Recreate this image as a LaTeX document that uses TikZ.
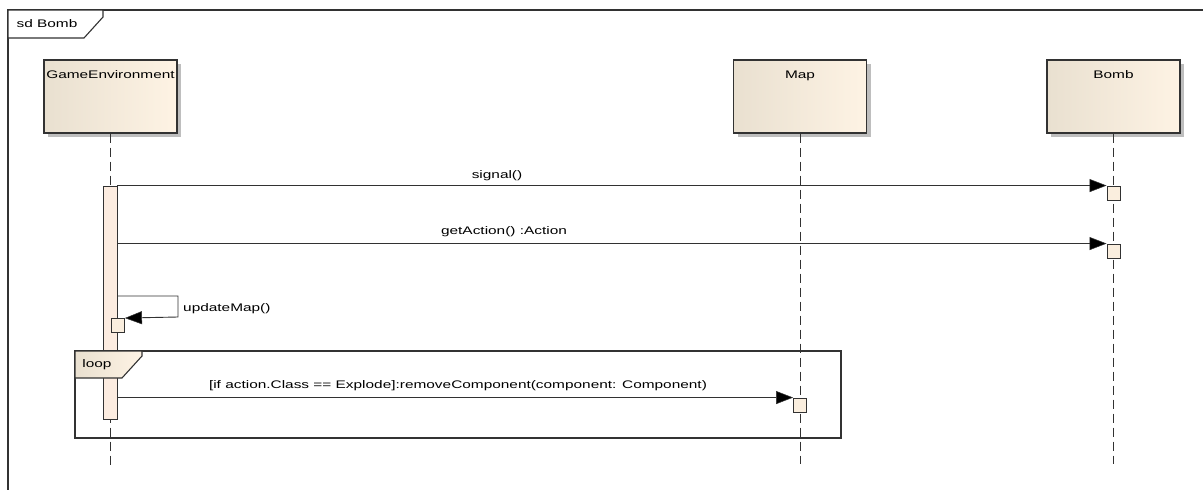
\documentclass[tikz,border=0pt]{standalone}
\usepackage{fontspec}
\setmainfont{Liberation Sans}[FakeStretch=1.4]
\usetikzlibrary{arrows.meta}
\definecolor{headL}{RGB}{233,224,208}
\definecolor{headR}{RGB}{254,243,228}
\definecolor{shadowgray}{RGB}{190,190,190}
\definecolor{linec}{RGB}{50,50,50}
\definecolor{actfill}{RGB}{252,236,224}
\definecolor{sqfill}{RGB}{250,238,222}
\tikzset{
  every node/.style={font=\fontsize{11}{13}\selectfont, text=black},
  head/.style={draw=linec, line width=1.1pt, left color=headL, right color=headR,
    minimum width=133pt, inner sep=0pt, text height=18pt, text depth=55pt,
    preaction={fill=shadowgray, transform canvas={shift={(4pt,-4pt)}}}},
  lifeline/.style={draw=linec, line width=0.9pt, dash pattern=on 9pt off 5pt},
  actbar/.style={draw=linec, line width=0.9pt, fill=actfill, minimum width=14pt, inner sep=0pt},
  sqbox/.style={draw=linec, line width=0.9pt, fill=sqfill, minimum width=13pt, minimum height=14pt, inner sep=0pt},
  msg/.style={draw=linec, line width=0.9pt, -{Triangle[length=17pt,width=13pt,fill=black,line width=0.5pt]}},
  framel/.style={draw=linec, line width=1.1pt},
  lbl/.style={inner sep=1pt}
}
\begin{document}
\begin{tikzpicture}[x=1pt,y=-1pt]
\clip (0,0) rectangle (1203,490);
\fill[white] (0,0) rectangle (1203,490);
% outer frame
\draw[framel] (8,510) -- (8,10) -- (1220,10);
\draw[framel, fill=white] (8,10) -- (103,10) -- (103,17) -- (84,38) -- (8,38) -- cycle;
\node[lbl] (sd) at (47,24) {sd Bomb};
% heads
\node[head] (ge) at (110.5,96.5) {GameEnvironment};
\node[head] (map) at (800,96.5) {Map};
\node[head] (bomb) at (1113.5,96.5) {Bomb};
% lifeline ends
\coordinate (geend) at (110.5,466);
\coordinate (mapend) at (800,464);
\coordinate (bombend) at (1113.5,464);
\draw[lifeline] (ge.south) -- (geend);
\draw[lifeline] (map.south) -- (mapend);
\draw[lifeline] (bomb.south) -- (bombend);
% activation bar
\node[actbar, minimum height=233pt] (act) at (110,302.5) {};
% loop fragment
\draw[framel] (75,351) rectangle (841,438);
\draw[framel, left color=headL, right color=headR] (75,351) -- (142,351) -- (142,356) -- (122,378) -- (75,378) -- cycle;
\node[lbl] (looplbl) at (97,365) {loop};
% target squares
\node[sqbox] (sq1) at (1113.5,193) {};
\node[sqbox] (sq2) at (1113.5,251) {};
\node[sqbox] (sq3) at (118,325.5) {};
\node[sqbox] (sq4) at (800,405) {};
% messages
\draw[msg] (act.east |- sq1.north west) -- (sq1.north west);
\node[lbl] (m1) at (497,176) {signal()};
\draw[msg] (act.east |- sq2.north west) -- (sq2.north west);
\node[lbl] (m2) at (504,232) {getAction() :Action};
\coordinate (s1) at (178,296);
\coordinate (s2) at (178,317);
\draw[msg] (act.east |- s1) -- (s1) -- (s2) -- (sq3.north east);
\node[lbl, anchor=west] (m3) at (182,309) {updateMap()};
\draw[msg] (act.east |- sq4.north west) -- (sq4.north west);
\node[lbl] (m4) at (458,386) {[if action.Class == Explode]:removeComponent(component: Component)};
\end{tikzpicture}
\end{document}
